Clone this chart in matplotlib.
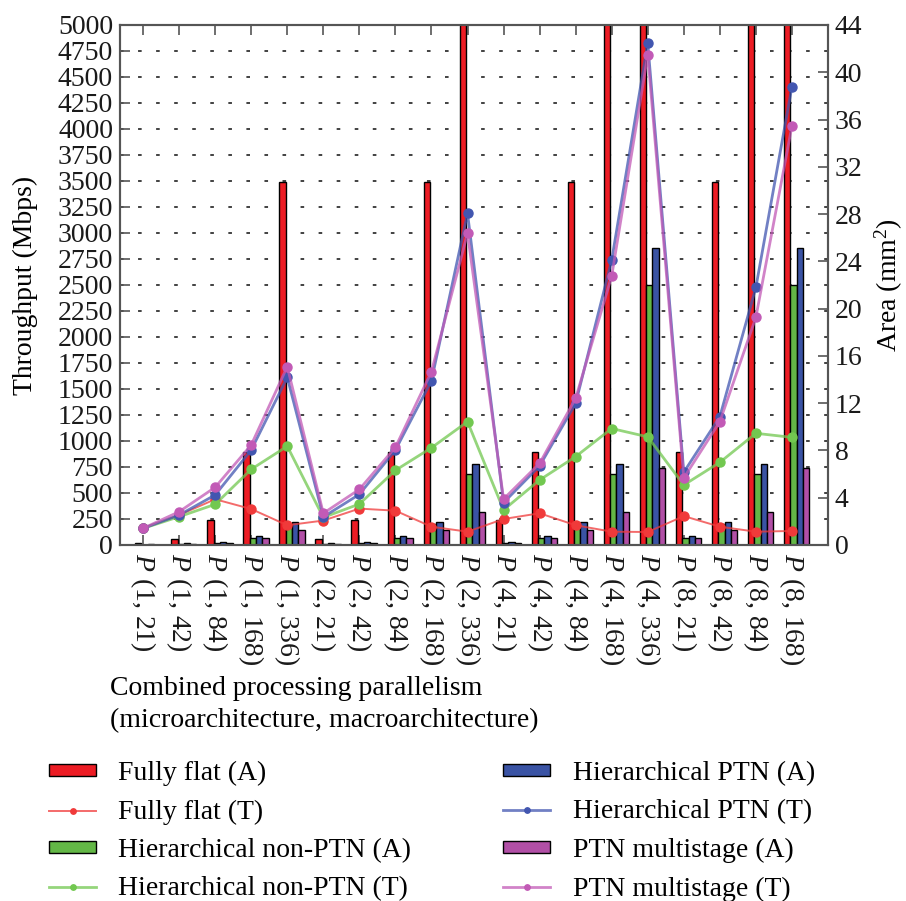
import matplotlib.pyplot as plt
from matplotlib.ticker import MultipleLocator
import numpy as np

plt.rcParams['font.family'] = ['Liberation Serif', 'DejaVu Serif']
plt.rcParams['mathtext.fontset'] = 'custom'
plt.rcParams['mathtext.rm'] = 'Liberation Serif'
plt.rcParams['mathtext.it'] = 'Liberation Serif:italic'

# combined parallelism (microarchitecture, macroarchitecture)
micro = [1, 1, 1, 1, 1, 2, 2, 2, 2, 2, 4, 4, 4, 4, 4, 8, 8, 8, 8]
macro = [21, 42, 84, 168, 336, 21, 42, 84, 168, 336, 21, 42, 84, 168, 336, 21, 42, 84, 168]

# area (mm^2) -> bars, right axis
area_flat = [0.13, 0.53, 2.15, 7.9, 30.7, 0.53, 2.15, 7.9, 30.7, 123, 2.15, 7.9, 30.7, 123, 490, 7.9, 30.7, 123, 490]
area_nonptn = [0.04, 0.12, 0.2, 0.57, 1.75, 0.12, 0.2, 0.57, 1.75, 6.0, 0.2, 0.57, 1.75, 6.0, 22.0, 0.57, 1.75, 6.0, 22.0]
area_ptn = [0.05, 0.15, 0.25, 0.76, 1.95, 0.15, 0.25, 0.76, 1.95, 6.85, 0.25, 0.76, 1.95, 6.85, 25.1, 0.76, 1.95, 6.85, 25.1]
area_multi = [0.04, 0.12, 0.18, 0.57, 1.3, 0.12, 0.18, 0.57, 1.3, 2.8, 0.18, 0.57, 1.3, 2.8, 6.55, 0.57, 1.3, 2.8, 6.55]

# throughput (Mbps) -> lines, left axis
thr_flat = [163, 288, 440, 346, 190, 235, 350, 330, 176, 128, 250, 305, 190, 128, 125, 278, 176, 128, 135]
thr_nonptn = [160, 272, 391, 728, 950, 265, 394, 718, 935, 1186, 337, 625, 850, 1120, 1040, 577, 795, 1074, 1035]
thr_ptn = [160, 288, 481, 913, 1612, 270, 487, 913, 1580, 3189, 407, 760, 1362, 2740, 4824, 700, 1234, 2478, 4407]
thr_multi = [160, 320, 555, 962, 1715, 305, 535, 939, 1667, 2997, 442, 785, 1410, 2586, 4712, 645, 1186, 2190, 4030]

names = ['Fully flat', 'Hierarchical non-PTN', 'Hierarchical PTN', 'PTN multistage']
bar_colors = ['#ec1c24', '#63b746', '#3a53a4', '#b14fa6']
line_colors = ['#f03a3a', '#72c850', '#4256b0', '#c25ab6']

fig = plt.figure(figsize=(9.06, 9.01), dpi=100)
axA = fig.add_axes([120 / 906, 1 - 545 / 901, 708 / 906, 520 / 901])
axT = axA.twinx()
axA.yaxis.tick_right()
axA.yaxis.set_label_position('right')
axT.yaxis.tick_left()
axT.yaxis.set_label_position('left')

x = np.arange(len(micro))
w = 0.175
bars = []
for i, vals in enumerate([area_flat, area_nonptn, area_ptn, area_multi]):
    b = axA.bar(x + (i - 0.75) * w, vals, w, color=bar_colors[i], edgecolor='black',
                linewidth=1.0, label=names[i] + ' (A)')
    bars.append(b)

lines = []
for i, vals in enumerate([thr_flat, thr_nonptn, thr_ptn, thr_multi]):
    c = plt.matplotlib.colors.to_rgb(line_colors[i])
    lw = 1.4 if i == 0 else 2.0
    ln, = axT.plot(x, vals, '-o', color=c + (0.75,), lw=lw, ms=6.5,
                   mfc=c, mec=c, label=names[i] + ' (T)')
    lines.append(ln)

axA.set_xlim(-0.64, 19.0)
axA.set_ylim(0, 44)
axT.set_ylim(0, 5000)

axA.set_yticks(np.arange(0, 45, 4))
axT.set_yticks(np.arange(0, 5001, 250))
axA.set_xticks(x)
axA.set_xticklabels([f'$P$ ({m}, {n})' for m, n in zip(micro, macro)], rotation=270)

# dotted grid following the throughput ticks, behind the bars
axA.yaxis.set_minor_locator(MultipleLocator(2.2))
axA.set_axisbelow(True)
axA.grid(which='minor', axis='y', color='#333333', linestyle=(0, (2, 8)), lw=1.3)
axA.tick_params(which='minor', length=0)

for ax in (axA, axT):
    ax.tick_params(direction='in', length=7, width=1.2, color='#555555',
                   labelsize=20, labelcolor='#1a1a1a', pad=5)
    for s in ax.spines.values():
        s.set_color('#555555')
        s.set_linewidth(1.5)
axA.tick_params(axis='x', top=True, bottom=True, pad=6)

axT.set_ylabel('Throughput (Mbps)', fontsize=20, labelpad=14)
axA.set_ylabel('Area (mm$^2$)', fontsize=20, labelpad=7)

fig.text(110 / 906, 1 - 676 / 901,
         'Combined processing parallelism\n(microarchitecture, macroarchitecture)',
         ha='left', va='top', fontsize=20, linespacing=1.38)

handles = []
for b, ln in zip(bars, lines):
    handles += [b, ln]
fig.legend(handles, [h.get_label() for h in handles], loc='upper left',
           bbox_to_anchor=(49 / 906, 1 - 761 / 901), ncol=2, frameon=False,
           fontsize=20, handlelength=1.7, handleheight=0.3, handletextpad=0.8,
           columnspacing=3.3, labelspacing=0.48, borderpad=0, borderaxespad=0,
           markerscale=0.6)

fig.savefig('out.png', dpi=100)
